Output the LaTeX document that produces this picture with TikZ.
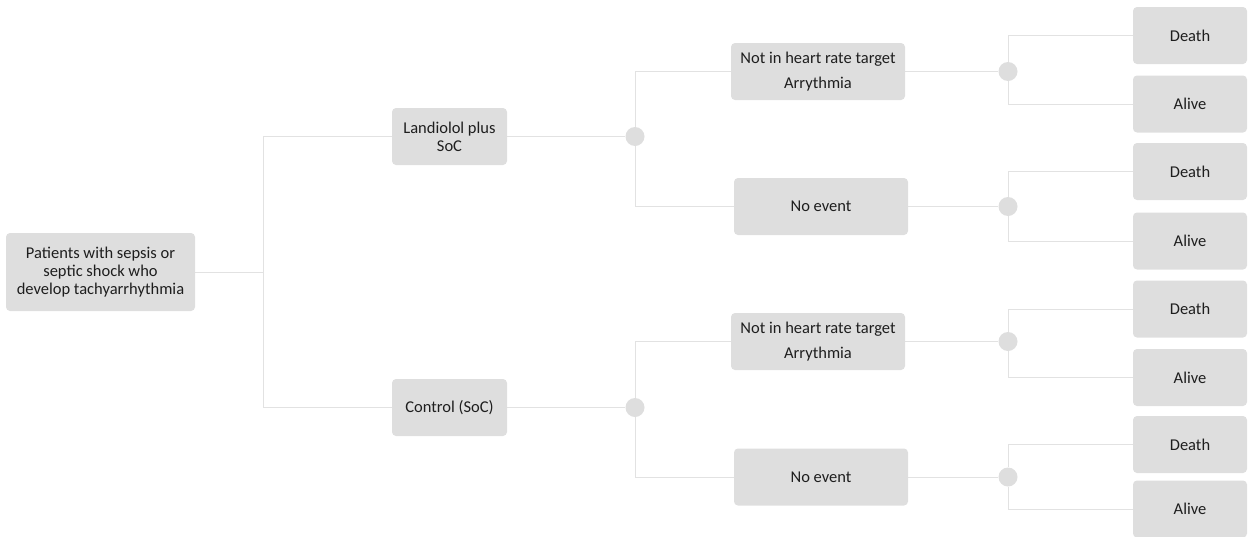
\documentclass[tikz,border=0pt]{standalone}
\usepackage{fontspec}
\setmainfont{Carlito}
\usetikzlibrary{backgrounds}
\definecolor{boxgray}{HTML}{DEDEDE}
\definecolor{linegray}{HTML}{E2E2E2}
\definecolor{txt}{HTML}{1E1E1E}
\begin{document}
\begin{tikzpicture}[x=1pt,y=-1pt,
  gbox/.style={fill=boxgray,draw=none,rounded corners=4pt,inner sep=0pt,align=center,
    text=txt,font=\fontsize{16.5}{18.3}\selectfont},
  outbox/.style={gbox,minimum width=114pt,minimum height=57pt},
  midbox/.style={gbox,minimum width=174pt,minimum height=57pt},
  dot/.style={circle,fill=boxgray,draw=none,minimum size=19pt,inner sep=0pt},
  conn/.style={draw=linegray,line width=0.9pt}]
\useasboundingbox (0,0) rectangle (1248,536);
% nodes
\node[gbox,minimum width=189pt,minimum height=78pt] (root) at (100.5,272) {Patients with sepsis or\\septic shock who\\develop tachyarrhythmia};
\node[gbox,minimum width=115pt,minimum height=57pt] (lan) at (449.5,136.5) {Landiolol plus\\SoC};
\node[gbox,minimum width=115pt,minimum height=57pt] (ctl) at (449.5,407.5) {Control (SoC)};
\coordinate (j0) at (263,272);
\node[dot] (d1) at (635,136.5) {};
\node[dot] (d2) at (635,407.5) {};
\node[midbox] (n1) at (818,71.5) {Not in heart rate target\\[6.7pt]Arrythmia};
\node[midbox] (e1) at (821,206.5) {No event};
\node[midbox] (n2) at (818,341.5) {Not in heart rate target\\[6.7pt]Arrythmia};
\node[midbox] (e2) at (821,477) {No event};
\node[dot] (d3) at (1008,71.5) {};
\node[dot] (d4) at (1008,206.5) {};
\node[dot] (d5) at (1008,341.5) {};
\node[dot] (d6) at (1008,477) {};
\node[outbox] (o1) at (1190,35.5) {Death};
\node[outbox] (o2) at (1190,104) {Alive};
\node[outbox] (o3) at (1190,171.5) {Death};
\node[outbox] (o4) at (1190,241) {Alive};
\node[outbox] (o5) at (1190,309) {Death};
\node[outbox] (o6) at (1190,377.5) {Alive};
\node[outbox] (o7) at (1190,444.5) {Death};
\node[outbox] (o8) at (1190,509) {Alive};
% connectors
\begin{scope}[on background layer]
\draw[conn] (root.east) -- (j0);
\draw[conn] (lan.west) -| (j0);
\draw[conn] (ctl.west) -| (j0);
\draw[conn] (lan.east) -- (d1);
\draw[conn] (ctl.east) -- (d2);
\draw[conn] (n1.west) -| (d1);
\draw[conn] (e1.west) -| (d1);
\draw[conn] (n2.west) -| (d2);
\draw[conn] (e2.west) -| (d2);
\draw[conn] (n1.east) -- (d3);
\draw[conn] (e1.east) -- (d4);
\draw[conn] (n2.east) -- (d5);
\draw[conn] (e2.east) -- (d6);
\draw[conn] (o1.west) -| (d3);
\draw[conn] (o2.west) -| (d3);
\draw[conn] (o3.west) -| (d4);
\draw[conn] (o4.west) -| (d4);
\draw[conn] (o5.west) -| (d5);
\draw[conn] (o6.west) -| (d5);
\draw[conn] (o7.west) -| (d6);
\draw[conn] (o8.west) -| (d6);
\end{scope}
\end{tikzpicture}
\end{document}
